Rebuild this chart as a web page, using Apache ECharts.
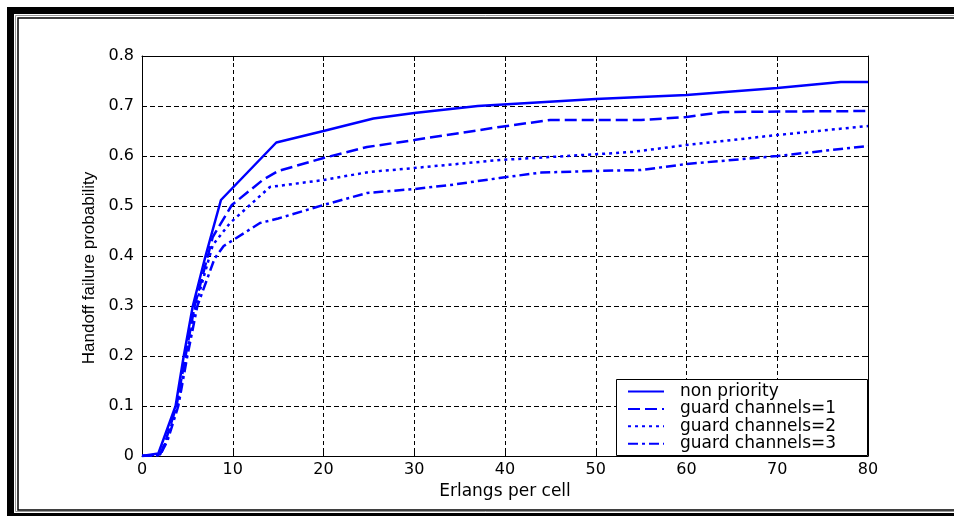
<!DOCTYPE html>
<html>
<head>
<meta charset="utf-8">
<script src="https://cdn.jsdelivr.net/npm/echarts@6/dist/echarts.min.js"></script>
<style>html,body{margin:0;padding:0;background:#fff}#c{width:954px;height:516px}</style>
</head>
<body>
<div id="c"></div>
<script>
var seriesNames = ['non priority', 'guard channels=1', 'guard channels=2', 'guard channels=3'];
var xTicks = [0, 10, 20, 30, 40, 50, 60, 70, 80];
var yTicks = [0, 0.1, 0.2, 0.3, 0.4, 0.5, 0.6, 0.7, 0.8];

var nonPriorityX = [0, 1.8, 2.5, 3.7, 4.6, 5.6, 7.0, 8.7, 14.8, 20, 25.5, 30, 37, 50, 60, 70, 77, 80];
var nonPriorityY = [0, 0.005, 0.04, 0.1, 0.2, 0.3, 0.4, 0.512, 0.627, 0.65, 0.675, 0.686, 0.70, 0.714, 0.722, 0.736, 0.748, 0.748];

var guard1X = [0, 2, 2.6, 3.8, 4.8, 5.8, 7.8, 9.9, 13.3, 15, 20, 24.8, 30, 39.4, 45, 55, 60, 64, 80];
var guard1Y = [0, 0.003, 0.03, 0.1, 0.2, 0.3, 0.438, 0.502, 0.552, 0.57, 0.596, 0.618, 0.632, 0.658, 0.672, 0.672, 0.678, 0.688, 0.69];

var guard2X = [0, 2, 2.7, 3.9, 4.9, 5.9, 7.8, 9.7, 14.1, 20, 25, 30, 39.4, 45, 54, 60, 70, 80];
var guard2Y = [0, 0.002, 0.03, 0.1, 0.2, 0.3, 0.422, 0.466, 0.538, 0.552, 0.568, 0.576, 0.592, 0.598, 0.608, 0.622, 0.642, 0.66];

var guard3X = [0, 2, 2.8, 4, 5.0, 6.1, 8, 9, 13, 15, 20, 24.8, 30, 34, 39.4, 44, 50, 55, 60, 70, 80];
var guard3Y = [0, 0.002, 0.03, 0.1, 0.2, 0.3, 0.395, 0.42, 0.466, 0.475, 0.502, 0.526, 0.534, 0.542, 0.556, 0.567, 0.57, 0.572, 0.584, 0.6, 0.62];

function pairs(xs, ys) { return xs.map(function (x, i) { return [x, ys[i]]; }); }

var dashes = ['solid', [12, 5], [3, 4], [10, 4, 3, 4]];
var datas = [pairs(nonPriorityX, nonPriorityY), pairs(guard1X, guard1Y), pairs(guard2X, guard2Y), pairs(guard3X, guard3Y)];

var chart = echarts.init(document.getElementById('c'), null, {renderer: 'canvas'});
var tickFont = 'DejaVu Sans';
chart.setOption({
  animation: false,
  backgroundColor: '#fff',
  grid: {left: 142, right: 86, top: 56, bottom: 60, show: false},
  xAxis: [{
    type: 'value', min: 0, max: 80, interval: 10, position: 'bottom',
    name: 'Erlangs per cell', nameLocation: 'middle', nameGap: 20,
    nameTextStyle: {fontFamily: tickFont, fontSize: 17, color: '#000', verticalAlign: 'top'},
    axisLine: {show: true, onZero: false, lineStyle: {color: '#000', width: 1}},
    axisTick: {show: true, inside: true, length: 5, lineStyle: {color: '#000'}},
    axisLabel: {fontFamily: tickFont, fontSize: 16, color: '#000', margin: 6,
      formatter: function (v) { return xTicks.indexOf(v) >= 0 ? String(v) : ''; }},
    splitLine: {show: true, lineStyle: {color: '#000', type: [4, 3], width: 1}}
  }, {
    type: 'value', min: 0, max: 80, interval: 10, position: 'top',
    axisLine: {show: true, onZero: false, lineStyle: {color: '#000', width: 1}},
    axisTick: {show: true, inside: true, length: 5, lineStyle: {color: '#000'}},
    axisLabel: {show: false}, splitLine: {show: false}
  }],
  yAxis: [{
    type: 'value', min: 0, max: 0.8, interval: 0.1, position: 'left',
    name: 'Handoff failure probability', nameLocation: 'middle', nameGap: 44,
    nameTextStyle: {fontFamily: 'Liberation Sans', fontSize: 17, color: '#000', padding: [0, 24, 0, 0]},
    axisLine: {show: true, onZero: false, lineStyle: {color: '#000', width: 1}},
    axisTick: {show: true, inside: true, length: 5, lineStyle: {color: '#000'}},
    axisLabel: {fontFamily: tickFont, fontSize: 16, color: '#000', margin: 8,
      formatter: function (v) { var r = Math.round(v * 10) / 10; return yTicks.indexOf(r) >= 0 ? String(r) : ''; }},
    splitLine: {show: true, lineStyle: {color: '#000', type: [5, 3], width: 1}}
  }, {
    type: 'value', min: 0, max: 0.8, interval: 0.1, position: 'right',
    axisLine: {show: true, onZero: false, lineStyle: {color: '#000', width: 1}},
    axisTick: {show: true, inside: true, length: 5, lineStyle: {color: '#000'}},
    axisLabel: {show: false}, splitLine: {show: false}
  }],
  legend: {
    orient: 'vertical', left: 627, top: 383, padding: 0, itemGap: 0.4,
    itemWidth: 36, itemHeight: 10, z: 10,
    itemStyle: {opacity: 0},
    textStyle: {fontFamily: tickFont, fontSize: 17, color: '#000', lineHeight: 17, padding: [0, 0, 0, 11]},
    data: seriesNames
  },
  graphic: [
    {type: 'rect', z: 5, shape: {x: 616.5, y: 379.5, width: 251, height: 76}, style: {fill: '#fff', stroke: '#000', lineWidth: 1}},
    {type: 'rect', z: 100, silent: true, shape: {x: 10.5, y: 10.5, width: 960, height: 506}, style: {fill: 'none', stroke: '#000', lineWidth: 7}},
    {type: 'rect', z: 100, silent: true, shape: {x: 15.5, y: 15.5, width: 960, height: 496}, style: {fill: 'none', stroke: '#999', lineWidth: 1}},
    {type: 'rect', z: 100, silent: true, shape: {x: 18, y: 18, width: 960, height: 492}, style: {fill: 'none', stroke: '#000', lineWidth: 1.5}}
  ],
  series: seriesNames.map(function (n, i) {
    return {
      name: n, type: 'line', xAxisIndex: 0, yAxisIndex: 0, data: datas[i],
      symbol: 'none', smooth: false, z: 3,
      lineStyle: {color: '#0000ff', width: 2.5, type: dashes[i]},
      itemStyle: {color: '#0000ff'}
    };
  })
});
</script>
</body>
</html>
